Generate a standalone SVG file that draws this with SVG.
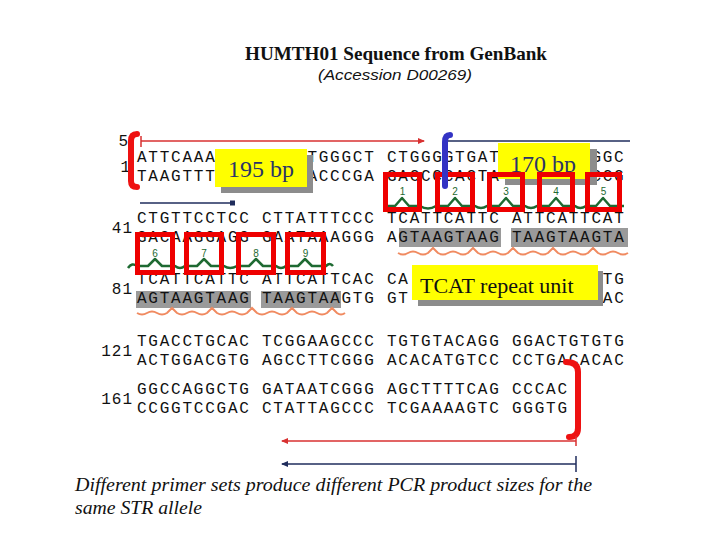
<svg xmlns="http://www.w3.org/2000/svg" width="720" height="540" viewBox="0 0 720 540">
<style>
.seq{font-family:"Liberation Mono","DejaVu Sans Mono",monospace;font-size:16px;letter-spacing:1.76px;fill:#111}
.num{font-family:"Liberation Mono","DejaVu Sans Mono",monospace;font-size:16px;letter-spacing:1px;fill:#111;text-anchor:end}
.hl{fill:#9a9a9a}
.box{fill:none;stroke:#ee0000;stroke-width:5}
.gnum{font-family:"Liberation Sans",Arial,sans-serif;font-size:10px;fill:#1e6a32;text-anchor:middle}
.chrom{fill:none;stroke:#1e6a32;stroke-width:2.5;stroke-linejoin:round}
.wave{fill:none;stroke:#f08a60;stroke-width:2}
.label{fill:#ffff00}
.shadow{fill:#8c8c8c}
.bp{font-family:"Liberation Serif","Times New Roman",serif;font-size:24px;fill:#2b3468}
.red{stroke:#d83030;stroke-width:1.5;fill:none}
.navy{stroke:#1f2d5c;stroke-width:1.5;fill:none}
.brk{fill:none;stroke-width:6;stroke-linecap:round}
</style>
<defs>
<marker id="arR" markerWidth="8" markerHeight="8" refX="6" refY="4" orient="auto" markerUnits="userSpaceOnUse"><path d="M0,1 L7,4 L0,7 Z" fill="#d83030"/></marker>
<marker id="arRL" markerWidth="8" markerHeight="8" refX="2" refY="4" orient="auto" markerUnits="userSpaceOnUse"><path d="M8,1 L1,4 L8,7 Z" fill="#d83030"/></marker>
<marker id="arNL" markerWidth="8" markerHeight="8" refX="2" refY="4" orient="auto" markerUnits="userSpaceOnUse"><path d="M8,1 L1,4 L8,7 Z" fill="#1f2d5c"/></marker>
</defs>
<rect width="720" height="540" fill="#ffffff"/>

<g id="title">
<text x="245" y="60" font-family="'Liberation Serif','Times New Roman',serif" font-weight="bold" font-size="19" textLength="302" lengthAdjust="spacingAndGlyphs" fill="#111">HUMTH01 Sequence from GenBank</text>
<text x="318" y="80" font-family="'Liberation Sans',Arial,sans-serif" font-style="italic" font-size="15" textLength="154" lengthAdjust="spacingAndGlyphs" fill="#111">(Accession D00269)</text>
</g>

<g id="highlights">
<rect class="hl" x="399" y="228" width="102" height="19"/>
<rect class="hl" x="511" y="228" width="117" height="19"/>
<rect class="hl" x="136" y="291" width="115" height="17"/>
<rect class="hl" x="261" y="291" width="80" height="17"/>
<path class="wave" d="M398 253 q5 3 10 0 t10 0 t10 0 l5 -5 l5 5 q5 3 10 0 t10 0 t10 0 l5 -5 l5 5 q5 3 10 0 t10 0 t10 0 l5 -5 l5 5 q5 3 10 0 t10 0 t10 0 l5 -5 l5 5 q5 3 10 0 t10 0 t10 0 l5 -5 l5 5 q5 3 10 0 t10 0 t10 0"/>
<path class="wave" d="M137 313 q5 3 10 0 t10 0 t10 0 l5 -5 l5 5 q5 3 10 0 t10 0 t10 0 l5 -5 l5 5 q5 3 10 0 t10 0 t10 0 l5 -5 l5 5 q5 3 10 0 t10 0 t10 0 l5 -5 l5 5 q5 3 10 0 t10 0 t10 0 l5 -5 l5 5 q4 3 8 0"/>
</g>

<g id="sequence">
<text class="num" x="129" y="146">5</text>
<text class="seq" x="137" y="162">ATTCAAA</text>
<text class="seq" x="307.4" y="162">TGGGCT CTGGGGTGAT</text>
<text class="seq" x="591.4" y="162">GGC</text>
<text class="seq" x="137" y="181">TAAGTTT</text>
<text class="seq" x="307.4" y="181">ACCCGA GACCCCACTA</text>
<text class="seq" x="591.4" y="181">CCG</text>
<text class="num" x="131" y="172">1</text>
<text class="seq" x="137" y="223">CTGTTCCTCC CTTATTTCCC TCATTCATTC ATTCATTCAT</text>
<text class="seq" x="137" y="242">GACAAGGAGG GAATAAAGGG AGTAAGTAAG TAAGTAAGTA</text>
<text class="num" x="133" y="233">41</text>
<text class="seq" x="137" y="284">TCATTCATTC ATTCATTCAC CA</text>
<text class="seq" x="602.8" y="284">TG</text>
<text class="seq" x="137" y="303">AGTAAGTAAG TAAGTAAGTG GT</text>
<text class="seq" x="602.8" y="303">AC</text>
<text class="num" x="133" y="294">81</text>
<text class="seq" x="137" y="346">TGACCTGCAC TCGGAAGCCC TGTGTACAGG GGACTGTGTG</text>
<text class="seq" x="137" y="365">ACTGGACGTG AGCCTTCGGG ACACATGTCC CCTGACACAC</text>
<text class="num" x="133" y="356">121</text>
<text class="seq" x="137" y="394">GGCCAGGCTG GATAATCGGG AGCTTTTCAG CCCAC</text>
<text class="seq" x="137" y="413">CCGGTCCGAC CTATTAGCCC TCGAAAAGTC GGGTG</text>
<text class="num" x="133" y="404">161</text>
</g>

<g id="label-195">
<rect class="shadow" x="221" y="155" width="92" height="38"/>
<rect class="label" x="215" y="149" width="92" height="38"/>
<text class="bp" x="228" y="177">195 bp</text>
</g>

<g id="label-170">
<rect class="shadow" x="505" y="149" width="92" height="36"/>
<rect class="label" x="498" y="143" width="92" height="36"/>
<text class="bp" x="510" y="172">170 bp</text>
</g>

<g id="repeat-boxes">
<path class="chrom" d="M383 206 L395 206 L402 198 L409 206 L420 206 Q428 211 436 206 L448 206 L455 198 L462 206 L475 206 Q481 210 487 206 L499 206 L506 198 L513 206 L525 206 Q531 210 537 206 L549 206 L556 198 L563 206 L575 206 Q580 210 586 206 L596 206 L603 198 L610 206 L624 206"/>
<path class="chrom" d="M128 268 Q132 262 137 266 L148 266 L155 259 L162 266 L175 266 Q180 270 185 266 L197 266 L204 259 L211 266 L224 266 Q230 270 237 266 L249 266 L256 259 L263 266 L276 266 Q281 270 286 266 L298 266 L305 259 L312 266 L326 266 Q330 262 333 266"/>
<rect class="box" x="385.5" y="174.5" width="34" height="35"/>
<rect class="box" x="437.5" y="174.5" width="35" height="35"/>
<rect class="box" x="489.5" y="174.5" width="33" height="35"/>
<rect class="box" x="539.5" y="174.5" width="33" height="35"/>
<rect class="box" x="587.5" y="174.5" width="32" height="35"/>
<text class="gnum" x="402.5" y="195">1</text>
<text class="gnum" x="455" y="195">2</text>
<text class="gnum" x="506" y="195">3</text>
<text class="gnum" x="556" y="195">4</text>
<text class="gnum" x="603.5" y="195">5</text>
<rect class="box" x="137.5" y="234.5" width="35" height="38"/>
<rect class="box" x="186.5" y="234.5" width="35" height="38"/>
<rect class="box" x="238.5" y="234.5" width="35" height="38"/>
<rect class="box" x="287.5" y="234.5" width="36" height="38"/>
<text class="gnum" x="155" y="257">6</text>
<text class="gnum" x="204" y="257">7</text>
<text class="gnum" x="256" y="257">8</text>
<text class="gnum" x="305.5" y="257">9</text>
</g>

<g id="label-repeat">
<rect class="shadow" x="418" y="271" width="185" height="35"/>
<rect class="label" x="412" y="265" width="186" height="35"/>
<text x="420" y="293" font-family="'Liberation Serif','Times New Roman',serif" font-size="22" fill="#111">TCAT repeat unit</text>
</g>

<g id="connectors">
<path class="brk" stroke="#ee1111" d="M137 134 Q131 134 131 141 L131 181 Q131 187 137 187"/>
<line class="red" x1="141" y1="141" x2="424" y2="141" marker-end="url(#arR)"/>
<line class="red" x1="141" y1="136" x2="141" y2="147"/>
<path class="brk" stroke="#3333c4" d="M450 135 Q445 135 445 142 L445 186"/>
<line class="navy" x1="448" y1="141" x2="630" y2="141"/>
<line class="navy" x1="140" y1="203" x2="232" y2="203"/>
<rect x="230" y="200.5" width="5" height="5" fill="#1f2d5c"/>
<path class="brk" stroke="#ee1111" d="M566 362 Q578 362 578 372 L578 428 Q578 437 569 437"/>
<line class="red" x1="282" y1="441" x2="576" y2="441" marker-start="url(#arRL)"/>
<line class="red" x1="576" y1="436" x2="576" y2="446"/>
<line class="navy" x1="282" y1="464" x2="576" y2="464" marker-start="url(#arNL)"/>
<line class="navy" x1="576" y1="456" x2="576" y2="472"/>
</g>

<g id="caption" font-family="'Liberation Serif','Times New Roman',serif" font-style="italic" font-size="19" fill="#111">
<text x="75" y="491" textLength="517" lengthAdjust="spacingAndGlyphs">Different primer sets produce different PCR product sizes for the</text>
<text x="75" y="514" textLength="127" lengthAdjust="spacingAndGlyphs">same STR allele</text>
</g>
</svg>
